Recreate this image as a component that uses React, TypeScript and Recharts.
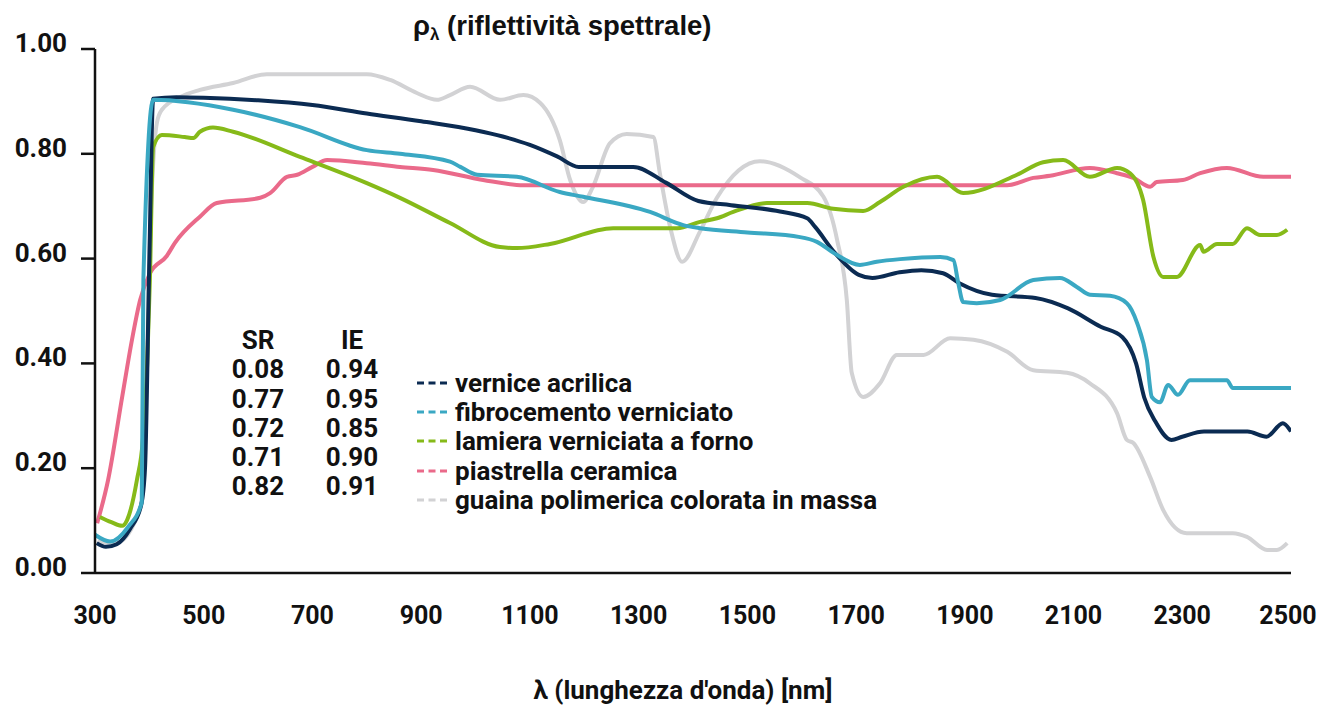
import React from "react";
import { Label, Legend, Line, LineChart, XAxis, YAxis } from "recharts";

const FONT = "Roboto, 'Noto Sans', sans-serif";

const xTicks = [300, 500, 700, 900, 1100, 1300, 1500, 1700, 1900, 2100, 2300, 2500];
const yTicks = [0, 0.2, 0.4, 0.6, 0.8, 1];

// vernice acrilica
const acrilicaNm = [303, 320, 340, 365, 385, 392, 400, 407, 450, 500, 600, 700, 800, 900, 1000, 1050, 1100, 1150, 1190, 1290, 1350, 1410, 1470, 1560, 1610, 1625, 1660, 1705, 1730, 1780, 1820, 1860, 1890, 1950, 2030, 2090, 2150, 2190, 2215, 2230, 2250, 2280, 2300, 2340, 2420, 2455, 2485, 2500];
const acrilicaVal = [0.057, 0.05, 0.055, 0.085, 0.13, 0.2, 0.6, 0.905, 0.908, 0.907, 0.902, 0.893, 0.877, 0.862, 0.845, 0.833, 0.817, 0.795, 0.775, 0.775, 0.745, 0.71, 0.702, 0.69, 0.677, 0.66, 0.612, 0.569, 0.563, 0.574, 0.578, 0.572, 0.553, 0.531, 0.525, 0.505, 0.47, 0.45, 0.4, 0.335, 0.29, 0.254, 0.26, 0.27, 0.27, 0.26, 0.286, 0.27];

// fibrocemento verniciato
const fibroNm = [300, 328, 361, 386, 389, 407, 554, 677, 800, 861, 953, 972, 1003, 1076, 1155, 1198, 1321, 1382, 1413, 1500, 1597, 1628, 1660, 1707, 1738, 1781, 1855, 1879, 1888, 1897, 1922, 1965, 2026, 2075, 2106, 2130, 2167, 2198, 2217, 2235, 2244, 2259, 2274, 2292, 2314, 2382, 2393, 2500];
const fibroVal = [0.073, 0.06, 0.088, 0.135, 0.56, 0.903, 0.884, 0.851, 0.807, 0.8, 0.785, 0.775, 0.76, 0.756, 0.727, 0.718, 0.689, 0.664, 0.658, 0.65, 0.641, 0.632, 0.61, 0.588, 0.594, 0.599, 0.603, 0.597, 0.553, 0.517, 0.515, 0.521, 0.559, 0.563, 0.546, 0.531, 0.529, 0.515, 0.477, 0.406, 0.336, 0.326, 0.359, 0.34, 0.368, 0.368, 0.353, 0.353];

// lamiera verniciata a forno
const lamieraNm = [309, 330, 350, 359, 377, 388, 396, 401, 407, 423, 465, 481, 493, 517, 554, 677, 800, 861, 953, 1045, 1076, 1137, 1253, 1371, 1413, 1444, 1474, 1536, 1610, 1658, 1713, 1744, 1787, 1849, 1897, 1996, 2044, 2081, 2130, 2180, 2204, 2228, 2247, 2265, 2290, 2333, 2339, 2364, 2393, 2419, 2443, 2474, 2493];
const lamieraVal = [0.107, 0.097, 0.09, 0.101, 0.177, 0.254, 0.4, 0.56, 0.813, 0.836, 0.832, 0.83, 0.842, 0.85, 0.842, 0.794, 0.744, 0.716, 0.668, 0.622, 0.62, 0.628, 0.658, 0.658, 0.67, 0.677, 0.689, 0.706, 0.706, 0.695, 0.691, 0.708, 0.737, 0.756, 0.725, 0.76, 0.784, 0.788, 0.756, 0.773, 0.763, 0.712, 0.603, 0.565, 0.565, 0.626, 0.613, 0.628, 0.628, 0.658, 0.645, 0.645, 0.655];

// piastrella ceramica
const piastrellaNm = [304, 324, 350, 368, 383, 401, 432, 447, 493, 524, 604, 622, 653, 672, 700, 727, 800, 861, 922, 1014, 1088, 1978, 2026, 2057, 2130, 2180, 2210, 2241, 2253, 2301, 2333, 2382, 2449, 2500];
const piastrellaVal = [0.095, 0.177, 0.336, 0.445, 0.521, 0.572, 0.605, 0.63, 0.68, 0.706, 0.716, 0.725, 0.756, 0.76, 0.775, 0.788, 0.782, 0.775, 0.769, 0.75, 0.74, 0.74, 0.754, 0.758, 0.773, 0.763, 0.754, 0.737, 0.746, 0.75, 0.763, 0.773, 0.756, 0.756];

// guaina polimerica colorata in massa
const guainaNm = [305, 340, 385, 392, 400, 414, 423, 456, 493, 554, 616, 800, 843, 892, 929, 953, 990, 1045, 1088, 1119, 1155, 1174, 1198, 1216, 1247, 1278, 1327, 1339, 1358, 1380, 1413, 1444, 1523, 1597, 1640, 1665, 1683, 1692, 1713, 1744, 1775, 1824, 1873, 1916, 1978, 2026, 2088, 2130, 2180, 2198, 2210, 2241, 2265, 2308, 2393, 2419, 2456, 2474, 2493];
const guainaVal = [0.06, 0.058, 0.13, 0.25, 0.6, 0.86, 0.884, 0.908, 0.922, 0.935, 0.952, 0.952, 0.941, 0.916, 0.903, 0.912, 0.928, 0.903, 0.912, 0.897, 0.826, 0.75, 0.708, 0.737, 0.82, 0.838, 0.832, 0.763, 0.66, 0.594, 0.652, 0.716, 0.786, 0.755, 0.718, 0.636, 0.52, 0.382, 0.336, 0.362, 0.416, 0.416, 0.448, 0.445, 0.422, 0.387, 0.382, 0.362, 0.305, 0.254, 0.248, 0.183, 0.12, 0.076, 0.076, 0.069, 0.044, 0.044, 0.057];

const srValues = ["0.08", "0.77", "0.72", "0.71", "0.82"];
const ieValues = ["0.94", "0.95", "0.85", "0.90", "0.91"];

const toPoints = (nm: number[], val: number[]) => nm.map((x, i) => ({ nm: x, v: val[i] }));

const series = [
  { key: "acrilica", name: "vernice acrilica", color: "#0b2b52", data: toPoints(acrilicaNm, acrilicaVal) },
  { key: "fibro", name: "fibrocemento verniciato", color: "#3aa8c3", data: toPoints(fibroNm, fibroVal) },
  { key: "lamiera", name: "lamiera verniciata a forno", color: "#86ba19", data: toPoints(lamieraNm, lamieraVal) },
  { key: "piastrella", name: "piastrella ceramica", color: "#ea6a8a", data: toPoints(piastrellaNm, piastrellaVal) },
  { key: "guaina", name: "guaina polimerica colorata in massa", color: "#d2d2d4", data: toPoints(guainaNm, guainaVal) },
];

// back to front
const drawOrder = ["guaina", "piastrella", "lamiera", "acrilica", "fibro"];

function XTick({ x, y, payload }: any) {
  // keep the last label inside the page edge
  const cx = Math.min(x, 1288);
  return (
    <text x={cx} y={y + 51} textAnchor="middle" fontFamily={FONT} fontSize={25} fontWeight={700} fill="#111">
      {payload.value}
    </text>
  );
}

function YTick({ x, y, payload }: any) {
  return (
    <text x={x} y={y + 3} textAnchor="end" fontFamily={FONT} fontSize={26} fontWeight={700} fill="#111">
      {Number(payload.value).toFixed(2)}
    </text>
  );
}

const renderLegend = () => (
  <div style={{ fontFamily: FONT, fontSize: 26, fontWeight: 700, color: "#111" }}>
    {series.map((s) => (
      <div key={s.key} style={{ display: "flex", alignItems: "center", height: 29.3, whiteSpace: "nowrap" }}>
        <svg width={38} height={6} style={{ flex: "none" }}>
          <line x1={0} y1={3} x2={30} y2={3} stroke={s.color} strokeWidth={3} strokeDasharray="7 4.5" />
        </svg>
        <span>{s.name}</span>
      </div>
    ))}
  </div>
);

const colStyle = (center: number): React.CSSProperties => ({
  position: "absolute",
  left: center - 50,
  top: 326,
  width: 100,
  textAlign: "center",
  fontFamily: FONT,
  fontSize: 26,
  fontWeight: 700,
  lineHeight: "29.3px",
  color: "#111",
});

export default function App() {
  return (
    <div style={{ position: "relative", width: 1317, height: 708, background: "#fff" }}>
      <style>{"body{margin:0}"}</style>
      <LineChart width={1317} height={708} margin={{ top: 49, right: 26, bottom: 0, left: 0 }}>
        <XAxis
          dataKey="nm"
          type="number"
          domain={[300, 2500]}
          ticks={xTicks}
          interval={0}
          allowDataOverflow
          height={135}
          tickLine={false}
          tickSize={0}
          tickMargin={0}
          axisLine={{ stroke: "#111", strokeWidth: 2.5 }}
          tick={<XTick />}
        >
          <Label
            value="λ (lunghezza d'onda) [nm]"
            position="insideBottom"
            offset={9}
            dx={-10}
            style={{ fontFamily: FONT, fontSize: 26, fontWeight: 700, fill: "#111" }}
          />
        </XAxis>
        <YAxis
          type="number"
          domain={[0, 1]}
          ticks={yTicks}
          interval={0}
          width={95}
          tickSize={14}
          tickMargin={14}
          axisLine={{ stroke: "#111", strokeWidth: 2.5 }}
          tickLine={{ stroke: "#111", strokeWidth: 2.5 }}
          tick={<YTick />}
        />
        <Legend
          layout="vertical"
          align="center"
          verticalAlign="middle"
          content={renderLegend}
          wrapperStyle={{ left: 417, top: 368, width: 500, height: "auto" }}
        />
        {drawOrder.map((k) => {
          const s = series.find((d) => d.key === k)!;
          return (
            <Line
              key={s.key}
              data={s.data}
              dataKey="v"
              name={s.name}
              type="monotone"
              stroke={s.color}
              strokeWidth={4}
              dot={false}
              activeDot={false}
              isAnimationActive={false}
            />
          );
        })}
      </LineChart>

      <div
        style={{
          position: "absolute",
          left: 413,
          top: 11,
          fontFamily: "'Liberation Sans', Arial, sans-serif",
          fontSize: 27.5,
          fontWeight: 700,
          lineHeight: "30px",
          whiteSpace: "nowrap",
          color: "#111",
        }}
      >
        ρ<span style={{ fontSize: 17, position: "relative", top: 5 }}>λ</span> (riflettività spettrale)
      </div>

      <div style={colStyle(258)}>
        <div>SR</div>
        {srValues.map((v, i) => (
          <div key={i}>{v}</div>
        ))}
      </div>
      <div style={colStyle(352)}>
        <div>IE</div>
        {ieValues.map((v, i) => (
          <div key={i}>{v}</div>
        ))}
      </div>
    </div>
  );
}
